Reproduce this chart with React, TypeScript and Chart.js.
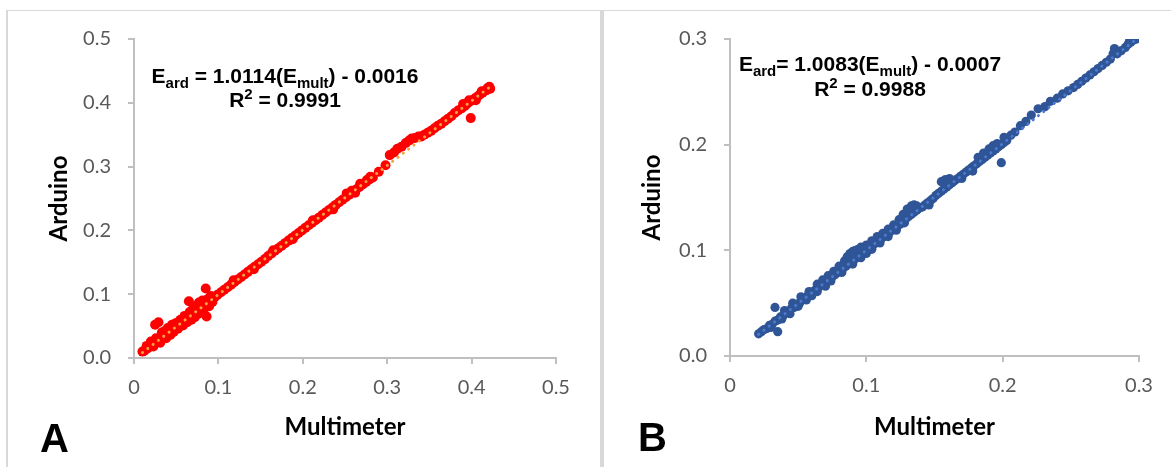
import React, { useEffect, useRef } from "react";
import { Chart, registerables } from "chart.js";

Chart.register(...registerables);

// ---------- Data (Multimeter, Arduino) ----------
const ticksA = [0, 0.1, 0.2, 0.3, 0.4, 0.5];
const ticksB = [0, 0.1, 0.2, 0.3];

const pointsA: [number, number][] = [
  [0.010, 0.010], [0.012, 0.011], [0.015, 0.014], [0.018, 0.017], [0.021, 0.020], [0.024, 0.023],
  [0.027, 0.026], [0.030, 0.029], [0.033, 0.032], [0.036, 0.035], [0.039, 0.038], [0.042, 0.041],
  [0.045, 0.044], [0.048, 0.047], [0.051, 0.050], [0.054, 0.053], [0.057, 0.056], [0.060, 0.059],
  [0.063, 0.062], [0.066, 0.065], [0.069, 0.068], [0.072, 0.071], [0.075, 0.074], [0.078, 0.077],
  [0.081, 0.080], [0.084, 0.083], [0.087, 0.086], [0.090, 0.089], [0.093, 0.093], [0.096, 0.096],
  [0.099, 0.099], [0.103, 0.103], [0.107, 0.107], [0.111, 0.111], [0.115, 0.115], [0.119, 0.119],
  [0.123, 0.123], [0.127, 0.127], [0.131, 0.131], [0.135, 0.135], [0.139, 0.139], [0.143, 0.143],
  [0.147, 0.147], [0.151, 0.151], [0.155, 0.155], [0.159, 0.160], [0.163, 0.164], [0.167, 0.168],
  [0.171, 0.172], [0.175, 0.176], [0.179, 0.180], [0.183, 0.184], [0.187, 0.188], [0.191, 0.192],
  [0.195, 0.196], [0.199, 0.200], [0.203, 0.204], [0.207, 0.208], [0.211, 0.212], [0.215, 0.216],
  [0.219, 0.220], [0.223, 0.224], [0.227, 0.228], [0.231, 0.232], [0.235, 0.236], [0.239, 0.240],
  [0.243, 0.244], [0.247, 0.248], [0.251, 0.252], [0.255, 0.256], [0.259, 0.260], [0.263, 0.264],
  [0.267, 0.268], [0.271, 0.272], [0.275, 0.276], [0.279, 0.280],
  [0.118, 0.122], [0.142, 0.139], [0.165, 0.169], [0.188, 0.186], [0.212, 0.216], [0.236, 0.233],
  [0.252, 0.258], [0.258, 0.262], [0.262, 0.259], [0.268, 0.273], [0.276, 0.279], [0.280, 0.284],
  [0.283, 0.283],
  [0.290, 0.292], [0.298, 0.302], [0.303, 0.318], [0.308, 0.322], [0.312, 0.328], [0.317, 0.331],
  [0.322, 0.337], [0.326, 0.341], [0.329, 0.344], [0.333, 0.345], [0.337, 0.347], [0.340, 0.347],
  [0.344, 0.350], [0.348, 0.353], [0.352, 0.356], [0.356, 0.360], [0.360, 0.364], [0.364, 0.367],
  [0.368, 0.371], [0.372, 0.375], [0.376, 0.379], [0.380, 0.384], [0.384, 0.388], [0.388, 0.391],
  [0.392, 0.395], [0.395, 0.399], [0.399, 0.376], [0.398, 0.402], [0.401, 0.404], [0.404, 0.407],
  [0.407, 0.410], [0.410, 0.413], [0.413, 0.416], [0.416, 0.419], [0.419, 0.423], [0.421, 0.425],
  [0.422, 0.422], [0.390, 0.398], [0.397, 0.404], [0.405, 0.404], [0.412, 0.418], [0.418, 0.420],
  [0.015, 0.019], [0.020, 0.026], [0.023, 0.018], [0.026, 0.031], [0.025, 0.052], [0.029, 0.056],
  [0.031, 0.024], [0.033, 0.040], [0.036, 0.042], [0.038, 0.031], [0.040, 0.047], [0.043, 0.036],
  [0.045, 0.052], [0.047, 0.041], [0.050, 0.055], [0.052, 0.046], [0.055, 0.060], [0.058, 0.051],
  [0.060, 0.066], [0.063, 0.056], [0.065, 0.089], [0.066, 0.072], [0.068, 0.060], [0.070, 0.077],
  [0.072, 0.064], [0.074, 0.082], [0.076, 0.069], [0.077, 0.087], [0.079, 0.073], [0.081, 0.090],
  [0.083, 0.077], [0.085, 0.109], [0.086, 0.065], [0.087, 0.092], [0.089, 0.081], [0.091, 0.097],
  [0.093, 0.088],
];

const trendA: [number, number][] = [[0.010, 0.0085], [0.422, 0.4252]];

const pointsB: [number, number][] = [
  [0.021, 0.021], [0.023, 0.023], [0.025, 0.025], [0.027, 0.026], [0.029, 0.029], [0.031, 0.030],
  [0.033, 0.033], [0.033, 0.046], [0.035, 0.023], [0.035, 0.034], [0.037, 0.037], [0.039, 0.038],
  [0.041, 0.041], [0.043, 0.042], [0.045, 0.045], [0.047, 0.046], [0.049, 0.049], [0.051, 0.050],
  [0.053, 0.053], [0.055, 0.055], [0.057, 0.057], [0.059, 0.058], [0.061, 0.061], [0.063, 0.063],
  [0.065, 0.065], [0.067, 0.067], [0.069, 0.069], [0.071, 0.071], [0.073, 0.073], [0.075, 0.075],
  [0.077, 0.077], [0.079, 0.079], [0.081, 0.081], [0.083, 0.083], [0.085, 0.085], [0.087, 0.087],
  [0.089, 0.089], [0.091, 0.091], [0.093, 0.093], [0.095, 0.095], [0.097, 0.097], [0.099, 0.099],
  [0.101, 0.101], [0.103, 0.103], [0.105, 0.105], [0.107, 0.107], [0.109, 0.109], [0.111, 0.111],
  [0.113, 0.113], [0.115, 0.115], [0.117, 0.117], [0.119, 0.119], [0.121, 0.121], [0.123, 0.123],
  [0.125, 0.125], [0.127, 0.127], [0.129, 0.130], [0.131, 0.132], [0.133, 0.134], [0.135, 0.136],
  [0.137, 0.138], [0.139, 0.140], [0.141, 0.141], [0.143, 0.143], [0.145, 0.145], [0.147, 0.147],
  [0.149, 0.149], [0.151, 0.152], [0.153, 0.154], [0.155, 0.156], [0.157, 0.158], [0.159, 0.160],
  [0.161, 0.162], [0.163, 0.164], [0.165, 0.166], [0.167, 0.168], [0.169, 0.170], [0.171, 0.172],
  [0.173, 0.174], [0.175, 0.176], [0.177, 0.178], [0.179, 0.180], [0.181, 0.182], [0.183, 0.184],
  [0.185, 0.186], [0.187, 0.188], [0.189, 0.190], [0.191, 0.192], [0.193, 0.194], [0.195, 0.196],
  [0.197, 0.198], [0.199, 0.200], [0.201, 0.202], [0.203, 0.204],
  [0.206, 0.209], [0.209, 0.212], [0.213, 0.218], [0.217, 0.222], [0.221, 0.228], [0.226, 0.234],
  [0.231, 0.236], [0.235, 0.241], [0.240, 0.244], [0.244, 0.248], [0.248, 0.251], [0.252, 0.254],
  [0.255, 0.257], [0.258, 0.260], [0.261, 0.263], [0.264, 0.266], [0.267, 0.269], [0.270, 0.272],
  [0.273, 0.275], [0.276, 0.278], [0.279, 0.281], [0.281, 0.286], [0.282, 0.291], [0.284, 0.286],
  [0.287, 0.289], [0.290, 0.292], [0.292, 0.295], [0.294, 0.297], [0.296, 0.299], [0.298, 0.300],
  [0.293, 0.298],
  [0.040, 0.043], [0.046, 0.050], [0.052, 0.056], [0.058, 0.061], [0.064, 0.068], [0.068, 0.072],
  [0.072, 0.076], [0.076, 0.080], [0.080, 0.085], [0.084, 0.090], [0.086, 0.094], [0.088, 0.097],
  [0.090, 0.099], [0.092, 0.100], [0.094, 0.101], [0.096, 0.103], [0.100, 0.105], [0.104, 0.109],
  [0.108, 0.113], [0.112, 0.116], [0.116, 0.120], [0.120, 0.124], [0.124, 0.129], [0.127, 0.134],
  [0.130, 0.139], [0.133, 0.142], [0.135, 0.143], [0.137, 0.142],
  [0.155, 0.165], [0.158, 0.167], [0.161, 0.168],
  [0.182, 0.188], [0.186, 0.192], [0.190, 0.196], [0.193, 0.199], [0.196, 0.201], [0.199, 0.183],
  [0.201, 0.207],
  [0.060, 0.057], [0.070, 0.066], [0.100, 0.097], [0.110, 0.107],
  [0.030, 0.027], [0.038, 0.035], [0.044, 0.040], [0.050, 0.047], [0.056, 0.053], [0.064, 0.061],
  [0.074, 0.071], [0.082, 0.079], [0.090, 0.087], [0.096, 0.093], [0.104, 0.101], [0.116, 0.113],
  [0.122, 0.119], [0.128, 0.126], [0.146, 0.143], [0.170, 0.168], [0.178, 0.175],
];

const trendB: [number, number][] = [[0.021, 0.0205], [0.298, 0.2998]];

type Seg = { t: string; k: "n" | "sub" | "sup" };
const eqA: Seg[] = [
  { t: "E", k: "n" }, { t: "ard", k: "sub" }, { t: " = 1.0114(E", k: "n" },
  { t: "mult", k: "sub" }, { t: ") - 0.0016", k: "n" },
];
const r2A: Seg[] = [{ t: "R", k: "n" }, { t: "2", k: "sup" }, { t: " = 0.9991", k: "n" }];
const eqB: Seg[] = [
  { t: "E", k: "n" }, { t: "ard", k: "sub" }, { t: "= 1.0083(E", k: "n" },
  { t: "mult", k: "sub" }, { t: ") - 0.0007", k: "n" },
];
const r2B: Seg[] = [{ t: "R", k: "n" }, { t: "2", k: "sup" }, { t: " = 0.9988", k: "n" }];

const xTitle = "Multimeter";
const yTitle = "Arduino";

// ---------- Drawing helpers ----------
const RICH_FONT = '"Liberation Sans", Arial, sans-serif';
function segFont(k: string) {
  const size = k === "n" ? 21 : 15;
  return `bold ${size}px ${RICH_FONT}`;
}
function segDy(k: string) {
  return k === "sub" ? 5 : k === "sup" ? -8 : 0;
}
function drawRich(ctx: CanvasRenderingContext2D, segs: Seg[], cx: number, baseline: number) {
  let total = 0;
  const widths = segs.map((s) => {
    ctx.font = segFont(s.k);
    const w = ctx.measureText(s.t).width;
    total += w;
    return w;
  });
  let x = cx - total / 2;
  segs.forEach((s, i) => {
    ctx.font = segFont(s.k);
    ctx.fillText(s.t, x, baseline + segDy(s.k));
    x += widths[i];
  });
}

type PanelSpec = {
  width: number;
  points: [number, number][];
  trend: [number, number][];
  ticks: number[];
  pointColor: string;
  pointRadius: number;
  trendColor: string;
  areaLeft: number;
  areaRight: number;
  areaTop: number;
  areaBottom: number;
  yTitlePad: number;
  eq: Seg[];
  r2: Seg[];
  textCx: number;
  eqY: number;
  r2Y: number;
  letter: string;
  letterX: number;
  letterY: number;
};

const HEIGHT = 467;

function makeChart(canvas: HTMLCanvasElement, p: PanelSpec) {
  const tickFont = { family: "Lato, 'Open Sans', sans-serif", size: 20 };
  const titleFont = { family: "Lato, 'Open Sans', sans-serif", size: 24, weight: "bold" as const };
  const bottomPad = 10;
  const step = p.ticks[1] - p.ticks[0];
  const annot = {
    id: "annot" + p.letter,
    afterDraw(chart: Chart) {
      const ctx = chart.ctx;
      ctx.save();
      ctx.fillStyle = "#000000";
      ctx.textAlign = "left";
      ctx.textBaseline = "alphabetic";
      drawRich(ctx, p.eq, p.textCx, p.eqY);
      drawRich(ctx, p.r2, p.textCx, p.r2Y);
      ctx.font = `bold 40px ${RICH_FONT}`;
      ctx.fillText(p.letter, p.letterX, p.letterY);
      ctx.restore();
    },
  };
  return new Chart(canvas, {
    type: "scatter",
    data: {
      datasets: [
        {
          label: "trend",
          data: p.trend.map(([x, y]) => ({ x, y })),
          showLine: true,
          pointRadius: 0,
          borderColor: p.trendColor,
          borderWidth: 3,
          borderDash: [0.1, 6.6],
          borderCapStyle: "round",
          fill: false,
        },
        {
          label: "data",
          data: p.points.map(([x, y]) => ({ x, y })),
          pointRadius: p.pointRadius,
          pointBackgroundColor: p.pointColor,
          pointBorderWidth: 0,
          pointBorderColor: p.pointColor,
        },
      ],
    },
    options: {
      animation: false,
      responsive: false,
      events: [],
      layout: {
        padding: { left: 0, top: p.areaTop, right: p.width - p.areaRight, bottom: bottomPad },
      },
      plugins: { legend: { display: false }, tooltip: { enabled: false } },
      scales: {
        x: {
          type: "linear",
          min: p.ticks[0],
          max: p.ticks[p.ticks.length - 1],
          afterFit: (s: any) => {
            s.height = HEIGHT - bottomPad - p.areaBottom;
          },
          ticks: {
            stepSize: step,
            font: tickFont,
            color: "#595959",
            padding: 12,
            maxRotation: 0,
            callback: (v: any) => (Math.abs(v) < 1e-9 ? "0" : Number(v).toFixed(1)),
          },
          grid: { drawOnChartArea: false, color: "#bfbfbf", lineWidth: 2, tickLength: 6 },
          border: { color: "#bfbfbf", width: 2 },
          title: {
            display: true,
            text: xTitle,
            font: titleFont,
            color: "#000000",
            padding: { top: 0, bottom: 15 },
          },
        },
        y: {
          type: "linear",
          min: p.ticks[0],
          max: p.ticks[p.ticks.length - 1],
          afterFit: (s: any) => {
            s.width = p.areaLeft;
          },
          ticks: {
            stepSize: step,
            font: tickFont,
            color: "#595959",
            padding: 17,
            callback: (v: any) => Number(v).toFixed(1),
          },
          grid: { drawOnChartArea: false, color: "#bfbfbf", lineWidth: 2, tickLength: 6 },
          border: { color: "#bfbfbf", width: 2 },
          title: {
            display: true,
            text: yTitle,
            font: titleFont,
            color: "#000000",
            padding: { top: p.yTitlePad, bottom: 0 },
          },
        },
      },
    },
    plugins: [annot],
  } as any);
}

const panelA: PanelSpec = {
  width: 600,
  points: pointsA,
  trend: trendA,
  ticks: ticksA,
  pointColor: "#ff0000",
  pointRadius: 5,
  trendColor: "#f5a142",
  areaLeft: 134,
  areaRight: 556,
  areaTop: 39,
  areaBottom: 358,
  yTitlePad: 45,
  eq: eqA,
  r2: r2A,
  textCx: 285,
  eqY: 83,
  r2Y: 107,
  letter: "A",
  letterX: 40,
  letterY: 452,
};

const panelB: PanelSpec = {
  width: 571,
  points: pointsB,
  trend: trendB,
  ticks: ticksB,
  pointColor: "#2f5597",
  pointRadius: 4.6,
  trendColor: "#4a7bd0",
  areaLeft: 130,
  areaRight: 539,
  areaTop: 39,
  areaBottom: 356,
  yTitlePad: 38,
  eq: eqB,
  r2: r2B,
  textCx: 270,
  eqY: 71,
  r2Y: 96,
  letter: "B",
  letterX: 38,
  letterY: 451,
};

function Panel({ spec, left }: { spec: PanelSpec; left: number }) {
  const ref = useRef<HTMLCanvasElement | null>(null);
  useEffect(() => {
    if (!ref.current) return;
    const chart = makeChart(ref.current, spec);
    return () => chart.destroy();
  }, [spec]);
  return (
    <canvas
      ref={ref}
      width={spec.width}
      height={HEIGHT}
      style={{ position: "absolute", left, top: 0, width: spec.width, height: HEIGHT }}
    />
  );
}

export default function App() {
  const line = "#d9d9d9";
  return (
    <div
      style={{
        position: "fixed",
        left: 0,
        top: 0,
        width: 1171,
        height: HEIGHT,
        background: "#ffffff",
        overflow: "hidden",
      }}
    >
      <Panel spec={panelA} left={0} />
      <Panel spec={panelB} left={600} />
      <div style={{ position: "absolute", left: 6, top: 10, width: 1165, height: 1, background: line }} />
      <div style={{ position: "absolute", left: 6, top: 10, width: 2, height: HEIGHT - 10, background: line }} />
      <div style={{ position: "absolute", left: 600, top: 10, width: 4, height: HEIGHT - 10, background: line }} />
    </div>
  );
}
